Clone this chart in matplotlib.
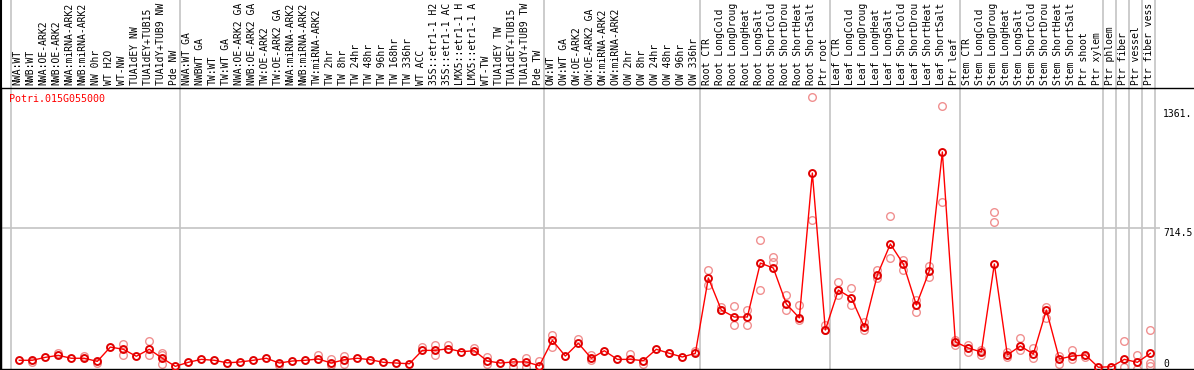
import matplotlib.pyplot as plt

# Sample names along the top
samples = [
    "NWA:WT", "NWB:WT", "NWA:OE-ARK2", "NWB:OE-ARK2", "NWA:miRNA-ARK2", "NWB:miRNA-ARK2",
    "NW 0hr", "WT H2O", "WT-NW", "TUA1dEY NW", "TUA1dEY+TUB15 NW", "TUA1dY+TUB9 NW", "Pde NW",
    "NWA:WT GA", "NWBWT GA", "TW:WT", "TW:WT GA", "NWA:OE-ARK2 GA", "NWB:OE-ARK2 GA",
    "TW:OE-ARK2", "TW:OE-ARK2 GA", "NWA:miRNA-ARK2", "NWB:miRNA-ARK2", "TW:miRNA-ARK2",
    "TW 2hr", "TW 8hr", "TW 24hr", "TW 48hr", "TW 96hr", "TW 168hr", "TW 336hr", "WT ACC",
    "35S::etr1-1 H2O", "35S::etr1-1 ACC", "LMX5::etr1-1 H2O", "LMX5::etr1-1 ACC",
    "WT-TW", "TUA1dEY TW", "TUA1dEY+TUB15 TW", "TUA1dY+TUB9 TW", "Pde TW",
    "OW:WT", "OW:WT GA", "OW:OE-ARK2", "OW:OE-ARK2 GA", "OW:miRNA-ARK2", "OW:miRNA-ARK2 GA",
    "OW 2hr", "OW 8hr", "OW 24hr", "OW 48hr", "OW 96hr", "OW 336hr",
    "Root CTR", "Root LongCold", "Root LongDrought", "Root LongHeat", "Root LongSalt",
    "Root ShortCold", "Root ShortDrought", "Root ShortHeat", "Root ShortSalt", "Ptr root",
    "Leaf CTR", "Leaf LongCold", "Leaf LongDrought", "Leaf LongHeat", "Leaf LongSalt",
    "Leaf ShortCold", "Leaf ShortDrought", "Leaf ShortHeat", "Leaf ShortSalt", "Ptr leaf",
    "Stem CTR", "Stem LongCold", "Stem LongDrought", "Stem LongHeat", "Stem LongSalt",
    "Stem ShortCold", "Stem ShortDrought", "Stem ShortHeat", "Stem ShortSalt", "Ptr shoot",
    "Ptr xylem", "Ptr phloem", "Ptr fiber", "Ptr vessel", "Ptr fiber vessel",
]

# Mean expression per sample
means = [
    -7, -7, 9, 20, 4, 4, -13, 65, 53, 15, 53, 4, -40,
    -18, -2, -7, -21, -16, -7, 4, -22, -11, -7, 0, -22, -4, 4, -4, -18, -22, -26,
    47, 47, 56, 40, 45, -11, -22, -16, -16, -37,
    102, 16, 86, 4, 45, -2, -2, -9, 53, 31, 11, 31,
    442, 267, 229, 229, 523, 496, 300, 224, 1014, 158,
    376, 333, 174, 458, 627, 518, 294, 480, 1129, 93,
    60, 38, 518, 22, 71, 27, 267, 0, 16, 22,
    -45, -42, -2, -18, 31,
]

# Individual replicates that sit away from the mean marker
replicates = {
    1: [-18], 3: [31], 5: [16], 6: [-23], 8: [82, 20], 10: [96, 23], 11: [34, 20, -29],
    20: [-34], 23: [22], 24: [-2, -34], 25: [18, -29], 31: [64], 32: [75, 22], 33: [75],
    35: [58], 36: [9, -29], 38: [-42], 39: [4, -42], 40: [-11], 41: [131, 67], 43: [109],
    44: [22, -7], 47: [26], 48: [-29], 50: [34], 52: [44],
    53: [485, 403], 54: [285, 267], 55: [291, 185], 56: [267, 185], 57: [649, 376],
    58: [556, 529], 59: [349, 267], 60: [294, 213], 61: [1429, 758], 62: [185, 158],
    63: [420, 349], 64: [387, 294], 65: [202, 158], 66: [485, 442], 67: [780, 551],
    68: [540, 485], 69: [322, 256], 70: [507, 447], 71: [1380, 856], 72: [104, 76],
    73: [76, 38], 74: [49, 22], 75: [802, 747], 76: [38, 11], 77: [114, 49],
    78: [60, 5], 79: [284, 224],
    80: [16, -29], 81: [49, -2], 82: [9], 85: [98, -42], 86: [22, -55], 87: [158, -20, -37],
}

separators = [-1, 12, 40, 52, 62, 72, 83, 84, 85, 86, 87]
y_ticks = [0, 714.5, 1361]
y_tick_labels = ["0", "714.5", "1361."]

fig = plt.figure(figsize=(11.94, 3.70), dpi=100)
ax = fig.add_axes([1 / 1194, 1 / 370, 1192 / 1194, 281 / 370])
ax.set_xlim(-1.408, 90.28)
ax.set_ylim(-54.5, 1477.6)
ax.set_xticks([])
ax.set_yticks([])
for side in ["left", "right", "top", "bottom"]:
    ax.spines[side].set_color("black")
    ax.spines[side].set_linewidth(1.0)
ax.spines["right"].set_visible(False)

mono = "DejaVu Sans Mono"

# group separators run through the label area too
for k in separators:
    ax.axvline(k + 0.385, ymin=0, ymax=1.313, color="#c4c4c4", lw=1.2, clip_on=False, zorder=0)
ax.axvline(-1.408, ymin=0, ymax=1.313, color="black", lw=1.5, clip_on=False, zorder=0)

ax.hlines(714.5, -1.408, 87.75, color="#c4c4c4", lw=1.2, zorder=0)

for yv, lab in zip(y_ticks, y_tick_labels):
    ax.text(88.0, yv, lab, fontsize=7, family=mono, ha="left", va="top")

ax.text(-0.8, 1415, "Potri.015G055000", fontsize=7.2, family=mono, color="red",
        ha="left", va="center")

# labels are cut to the width of the header band, as in the original
for i, lab in enumerate(samples):
    ax.annotate(lab[:14], xy=(i, 1), xycoords=("data", "axes fraction"), xytext=(-1.5, 3),
                textcoords="offset pixels", rotation=90, ha="center", va="bottom",
                fontsize=7, family=mono, annotation_clip=False)

for i, reps in replicates.items():
    ax.plot([i] * len(reps), reps, linestyle="none", marker="o", markersize=5.5,
            markerfacecolor="none", markeredgecolor="#f09090", markeredgewidth=1.0, zorder=2)

ax.plot(range(len(means)), means, color="red", lw=1.0, marker="o", markersize=5,
        markerfacecolor="none", markeredgecolor="#e00000", markeredgewidth=1.4, zorder=3)

fig.savefig("out.png", dpi=100)
